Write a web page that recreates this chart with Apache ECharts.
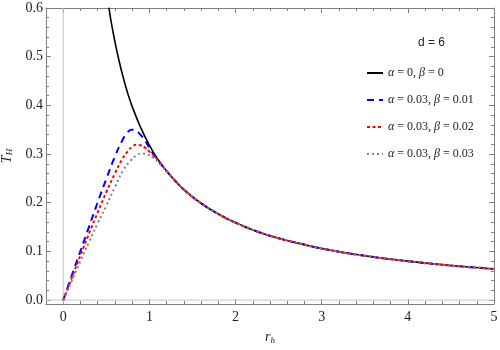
<!DOCTYPE html>
<html>
<head>
<meta charset="utf-8">
<script src="https://cdn.jsdelivr.net/npm/echarts@6/dist/echarts.min.js"></script>
<style>
  html, body { margin: 0; padding: 0; background: #fff; }
  #main { width: 500px; height: 350px; }
</style>
</head>
<body>
<div id="main"></div>
<script>
// 曲线数据 (r_h, T_H)
var rBlack = [0.53, 0.56, 0.6, 0.65, 0.7, 0.75, 0.8, 0.9, 1.0, 1.1, 1.2, 1.3, 1.4, 1.6, 1.8, 2.0, 2.25, 2.5, 2.75, 3.0, 3.5, 4.0, 4.5, 5.0];
var tBlack = [0.601, 0.568, 0.531, 0.490, 0.455, 0.424, 0.398, 0.354, 0.318, 0.289, 0.265, 0.245, 0.227, 0.199, 0.177, 0.159, 0.141, 0.127, 0.116, 0.106, 0.091, 0.080, 0.071, 0.064];

var rTail = [1.3, 1.4, 1.6, 1.8, 2.0, 2.25, 2.5, 2.75, 3.0, 3.5, 4.0, 4.5, 5.0];
var tTail = [0.245, 0.227, 0.199, 0.177, 0.159, 0.141, 0.127, 0.116, 0.106, 0.091, 0.080, 0.071, 0.064];

var rBlue = [0, 0.1, 0.2, 0.3, 0.4, 0.5, 0.6, 0.68, 0.74, 0.79, 0.84, 0.9, 0.95, 1.0, 1.05, 1.1, 1.2];
var tBlue = [0, 0.051, 0.101, 0.151, 0.201, 0.249, 0.295, 0.326, 0.343, 0.350, 0.348, 0.339, 0.327, 0.313, 0.299, 0.287, 0.265];

var rRed = [0, 0.1, 0.2, 0.3, 0.4, 0.5, 0.6, 0.68, 0.75, 0.8, 0.85, 0.9, 0.95, 1.0, 1.05, 1.1, 1.15, 1.2];
var tRed = [0, 0.046, 0.092, 0.137, 0.180, 0.222, 0.260, 0.288, 0.306, 0.315, 0.319, 0.318, 0.313, 0.305, 0.297, 0.287, 0.276, 0.265];

var rGray = [0, 0.1, 0.2, 0.3, 0.4, 0.5, 0.6, 0.7, 0.78, 0.85, 0.92, 0.98, 1.05, 1.1, 1.15, 1.2];
var tGray = [0, 0.040, 0.080, 0.119, 0.158, 0.194, 0.232, 0.268, 0.286, 0.297, 0.301, 0.299, 0.292, 0.284, 0.275, 0.265];

// 刻度
var xTicks = [0, 1, 2, 3, 4, 5];
var yTicks = [0, 0.1, 0.2, 0.3, 0.4, 0.5, 0.6];
var xMinor = [];
for (var i = 0; i <= 25; i++) { if (i % 5 !== 0) xMinor.push(Math.round(i * 2) / 10); }
var yMinor = [];
for (var k = 0; k <= 30; k++) { if (k % 5 !== 0) yMinor.push(Math.round(k * 2) / 100); }

// 坐标原点参考线
var vLine = [[0, -0.008], [0, 0.6]];
var hLine = [[-0.2, 0], [5, 0]];

var names = ['a0b0', 'a03b01', 'a03b02', 'a03b03'];
var labels = ['{i|α} = 0, {i|β} = 0', '{i|α} = 0.03, {i|β} = 0.01', '{i|α} = 0.03, {i|β} = 0.02', '{i|α} = 0.03, {i|β} = 0.03'];

function pairs(xs, ys) {
  var out = [];
  for (var i = 0; i < xs.length; i++) out.push([xs[i], ys[i]]);
  return out;
}

var myChart = echarts.init(document.getElementById('main'));

var frameColor = '#808080';
var serif = 'Liberation Serif, Times New Roman, serif';
var nameRich = {
  t: { fontFamily: serif, fontStyle: 'italic', fontSize: 14, color: '#222' },
  s: { fontFamily: serif, fontStyle: 'italic', fontSize: 9, color: '#222', padding: [6, 0, 0, 0] }
};

function xAx(pos, ticks, len, major) {
  return {
    type: 'value', position: pos, min: -0.2, max: 5,
    axisLine: { show: true, onZero: false, lineStyle: { color: frameColor, width: 1, opacity: major ? 1 : 0 } },
    axisTick: { show: true, inside: true, length: len, lineStyle: { color: frameColor, width: 1 }, customValues: ticks },
    axisLabel: { show: major && pos === 'bottom', customValues: ticks, color: '#222', fontFamily: serif, fontSize: 14, margin: 6 },
    splitLine: { show: false },
    name: (major && pos === 'bottom') ? '{t|r}{s|h}' : '', nameLocation: 'middle', nameGap: 26,
    nameTextStyle: { rich: nameRich }
  };
}

function yAx(pos, ticks, len, major) {
  return {
    type: 'value', position: pos, min: -0.008, max: 0.6,
    axisLine: { show: true, onZero: false, lineStyle: { color: frameColor, width: 1, opacity: major ? 1 : 0 } },
    axisTick: { show: true, inside: true, length: len, lineStyle: { color: frameColor, width: 1 }, customValues: ticks },
    axisLabel: { show: major && pos === 'left', customValues: ticks, color: '#222', fontFamily: serif, fontSize: 14, margin: 3,
      formatter: function (v) { return v.toFixed(1); } },
    splitLine: { show: false },
    name: (major && pos === 'left') ? '{t|T}{s|H}' : '', nameLocation: 'middle', nameGap: 24, nameRotate: 90,
    nameTextStyle: { rich: nameRich }
  };
}

var plain = { type: 'line', showSymbol: false, symbol: 'none', clip: true, silent: true };

var option = {
  animation: false,
  grid: { left: 46, right: 6, top: 8, bottom: 46, outerBoundsMode: 'none', containLabel: false },
  title: {
    text: 'd = 6', left: 413, top: 32,
    textStyle: { fontFamily: 'Liberation Sans, Arial, sans-serif', fontSize: 12, fontWeight: 'normal', color: '#222' }
  },
  legend: {
    orient: 'vertical', left: 361, top: 62, itemGap: 15, itemWidth: 16, itemHeight: 10,
    data: names,
    itemStyle: { opacity: 0 },
    formatter: function (n) { return labels[names.indexOf(n)]; },
    textStyle: { fontFamily: serif, fontSize: 12, color: '#222',
      rich: { i: { fontFamily: serif, fontStyle: 'italic', fontSize: 12, color: '#222' } } }
  },
  xAxis: [xAx('bottom', xTicks, 5, true), xAx('top', xTicks, 5, true), xAx('bottom', xMinor, 3, false), xAx('top', xMinor, 3, false)],
  yAxis: [yAx('left', yTicks, 5, true), yAx('right', yTicks, 5, true), yAx('left', yMinor, 3, false), yAx('right', yMinor, 3, false)],
  series: [
    Object.assign({ data: vLine, lineStyle: { color: '#c4c4c4', width: 1 } }, plain),
    Object.assign({ data: hLine, lineStyle: { color: '#c4c4c4', width: 1 } }, plain),
    {
      name: names[0], type: 'line', showSymbol: false, symbol: 'none', clip: true,
      data: pairs(rBlack, tBlack), smooth: true,
      lineStyle: { color: '#000', width: 1.6 }, itemStyle: { color: '#000' }
    },
    {
      name: names[1], type: 'line', showSymbol: false, symbol: 'none', clip: true, smooth: true,
      data: pairs(rBlue.concat(rTail), tBlue.concat(tTail)),
      lineStyle: { color: '#0000ff', width: 2, type: [7, 5] }, itemStyle: { color: '#0000ff' }
    },
    {
      name: names[2], type: 'line', showSymbol: false, symbol: 'none', clip: true, smooth: true,
      data: pairs(rRed.concat(rTail), tRed.concat(tTail)),
      lineStyle: { color: '#ff0000', width: 2, type: [3, 2.5] }, itemStyle: { color: '#ff0000' }
    },
    {
      name: names[3], type: 'line', showSymbol: false, symbol: 'none', clip: true, smooth: true,
      data: pairs(rGray.concat(rTail), tGray.concat(tTail)),
      lineStyle: { color: '#808080', width: 2, type: [2, 3] }, itemStyle: { color: '#808080' }
    }
  ]
};

myChart.setOption(option);
</script>
</body>
</html>
